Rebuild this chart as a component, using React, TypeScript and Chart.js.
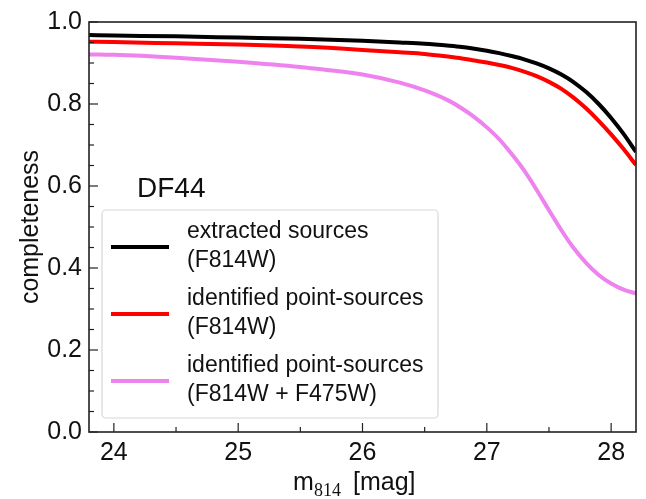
import React, { useEffect, useRef } from "react";
import { Chart, registerables } from "chart.js";
Chart.register(...registerables);

const magnitudes = [23.8, 24.0, 24.5, 25.0, 25.5, 26.0, 26.3, 26.5, 26.7, 26.8, 26.9, 27.0, 27.1, 27.2, 27.3, 27.4, 27.5, 27.6, 27.7, 27.8, 27.9, 28.0, 28.1, 28.2];
const extractedF814W = [0.968, 0.967, 0.965, 0.962, 0.959, 0.954, 0.950, 0.947, 0.942, 0.939, 0.935, 0.930, 0.924, 0.917, 0.909, 0.899, 0.887, 0.872, 0.853, 0.829, 0.800, 0.766, 0.727, 0.683];
const pointF814W = [0.952, 0.951, 0.948, 0.945, 0.940, 0.932, 0.926, 0.922, 0.915, 0.911, 0.906, 0.901, 0.895, 0.888, 0.879, 0.868, 0.854, 0.837, 0.815, 0.789, 0.759, 0.726, 0.690, 0.651];
const pointF814WF475W = [0.921, 0.920, 0.913, 0.903, 0.890, 0.872, 0.852, 0.833, 0.807, 0.789, 0.768, 0.743, 0.714, 0.678, 0.638, 0.591, 0.541, 0.492, 0.448, 0.412, 0.383, 0.362, 0.347, 0.338];

const seriesLabels = [
  ["extracted sources", "(F814W)"],
  ["identified point-sources", "(F814W)"],
  ["identified point-sources", "(F814W + F475W)"],
];
const seriesColors = ["#000000", "#ff0000", "#ee82ee"];

const xMajorTicks = [24, 25, 26, 27, 28];
const xMinorTicks = [24.5, 25.5, 26.5, 27.5];
const yMajorTicks = [0, 0.2, 0.4, 0.6, 0.8, 1.0];
const yMinorTicks = [0.05, 0.1, 0.15, 0.25, 0.3, 0.35, 0.45, 0.5, 0.55, 0.65, 0.7, 0.75, 0.85, 0.9, 0.95];
const xRange = [23.8, 28.2];
const yRange = [0, 1];
const panelLabel = "DF44";
const yTitle = "completeness";

const SANS = "'Liberation Sans', Arial, sans-serif";

const decorPlugin = {
  id: "decor",
  afterDatasetsDraw(chart: any) {
    const { ctx, chartArea: a, scales } = chart;
    ctx.save();
    ctx.strokeStyle = "#222";
    ctx.lineWidth = 1.2;
    const tick = (x1: number, y1: number, x2: number, y2: number) => {
      ctx.beginPath(); ctx.moveTo(x1, y1); ctx.lineTo(x2, y2); ctx.stroke();
    };
    xMajorTicks.forEach(v => { const p = scales.x.getPixelForValue(v); tick(p, a.bottom, p, a.bottom - 9); });
    xMinorTicks.forEach(v => { const p = scales.x.getPixelForValue(v); tick(p, a.bottom, p, a.bottom - 5); });
    yMajorTicks.forEach(v => { const p = scales.y.getPixelForValue(v); tick(a.left, p, a.left + 9, p); });
    yMinorTicks.forEach(v => { const p = scales.y.getPixelForValue(v); tick(a.left, p, a.left + 5, p); });
    ctx.lineWidth = 1.6;
    ctx.strokeStyle = "#222";
    ctx.strokeRect(a.left, a.top, a.right - a.left, a.bottom - a.top);
    ctx.restore();
  },
  afterDraw(chart: any) {
    const { ctx, chartArea: a } = chart;
    ctx.save();
    ctx.fillStyle = "#111";
    ctx.font = `28px ${SANS}`;
    ctx.textAlign = "left";
    ctx.textBaseline = "alphabetic";
    ctx.fillText(panelLabel, 137, 197);
    const bx = 102, by = 210, bw = 336, bh = 208, r = 4;
    ctx.beginPath();
    ctx.moveTo(bx + r, by);
    ctx.arcTo(bx + bw, by, bx + bw, by + bh, r);
    ctx.arcTo(bx + bw, by + bh, bx, by + bh, r);
    ctx.arcTo(bx, by + bh, bx, by, r);
    ctx.arcTo(bx, by, bx + bw, by, r);
    ctx.closePath();
    ctx.fillStyle = "rgba(255,255,255,0.85)";
    ctx.fill();
    ctx.strokeStyle = "#d8d8d8";
    ctx.lineWidth = 1.2;
    ctx.stroke();
    ctx.font = `23px ${SANS}`;
    ctx.textBaseline = "middle";
    chart.data.datasets.forEach((ds: any, i: number) => {
      const y0 = 232 + i * 67;
      ctx.strokeStyle = ds.borderColor;
      ctx.lineWidth = 4;
      ctx.beginPath(); ctx.moveTo(111, y0 + 15); ctx.lineTo(169, y0 + 15); ctx.stroke();
      ctx.fillStyle = "#111";
      seriesLabels[i].forEach((t, j) => ctx.fillText(t, 187, y0 + j * 29));
    });
    ctx.textBaseline = "alphabetic";
    ctx.fillStyle = "#111";
    ctx.font = `25px ${SANS}`;
    ctx.fillText("m", 293, 490);
    ctx.font = `18px 'Liberation Serif', 'DejaVu Serif', serif`;
    ctx.fillText("814", 314, 496);
    ctx.font = `25px ${SANS}`;
    ctx.fillText("[mag]", 353, 490);
    ctx.translate(31, (a.top + a.bottom) / 2);
    ctx.rotate(-Math.PI / 2);
    ctx.textAlign = "center";
    ctx.textBaseline = "middle";
    ctx.font = `25px ${SANS}`;
    ctx.fillText(yTitle, 0, 0);
    ctx.restore();
  },
};

export default function App() {
  const ref = useRef<HTMLCanvasElement>(null);
  useEffect(() => {
    const mk = (data: number[], i: number) => ({
      label: seriesLabels[i].join(" "),
      data: magnitudes.map((m, k) => ({ x: m, y: data[k] })),
      borderColor: seriesColors[i],
      backgroundColor: seriesColors[i],
      borderWidth: 4,
      pointRadius: 0,
      tension: 0.4,
      cubicInterpolationMode: "monotone" as const,
      fill: false,
    });
    const chart = new Chart(ref.current!, {
      type: "line",
      data: { datasets: [mk(extractedF814W, 0), mk(pointF814W, 1), mk(pointF814WF475W, 2)] },
      options: {
        responsive: false,
        animation: false,
        devicePixelRatio: 1,
        layout: { padding: { top: 19, right: 10, left: 0, bottom: 0 } },
        plugins: { legend: { display: false }, tooltip: { enabled: false } },
        scales: {
          x: {
            type: "linear",
            min: xRange[0],
            max: xRange[1],
            grid: { display: false, drawTicks: false },
            border: { display: false },
            afterBuildTicks: (s: any) => { s.ticks = xMajorTicks.map(v => ({ value: v })); },
            afterFit: (s: any) => { s.height = 67; },
            ticks: { font: { family: SANS, size: 25 }, color: "#111", padding: 6, maxRotation: 0, callback: (v: any) => String(v) },
          },
          y: {
            type: "linear",
            min: yRange[0],
            max: yRange[1],
            grid: { display: false, drawTicks: false },
            border: { display: false },
            afterBuildTicks: (s: any) => { s.ticks = yMajorTicks.map(v => ({ value: v })); },
            afterFit: (s: any) => { s.width = 89; },
            ticks: { font: { family: SANS, size: 25 }, color: "#111", padding: 7, callback: (v: any) => Number(v).toFixed(1) },
          },
        },
      },
      plugins: [decorPlugin],
    });
    return () => chart.destroy();
  }, []);
  return (
    <div style={{ position: "fixed", left: 0, top: 0, width: 646, height: 499, background: "#fff" }}>
      <canvas ref={ref} width={646} height={499} style={{ display: "block", width: 646, height: 499 }} />
    </div>
  );
}
